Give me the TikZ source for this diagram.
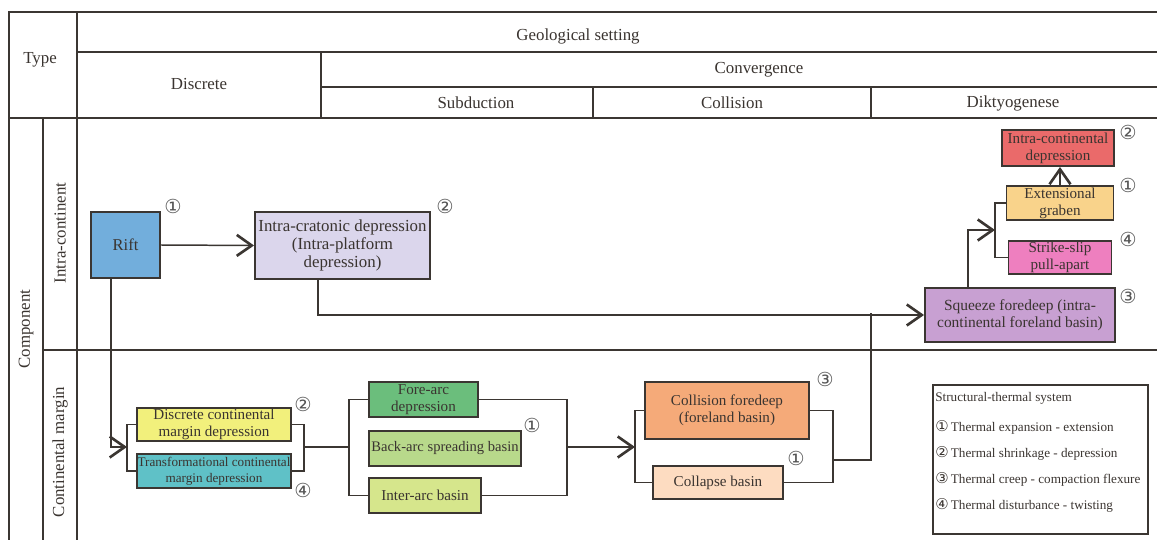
\documentclass[tikz,border=0pt]{standalone}
\usepackage{fontspec}
\setmainfont{Liberation Serif}
\newfontfamily\circfont{DejaVu Sans}
\usetikzlibrary{arrows.meta}
\usetikzlibrary{positioning}

\definecolor{lineC}{HTML}{3B3632}
\definecolor{textC}{HTML}{3A3430}
\definecolor{numC}{HTML}{555555}
\definecolor{riftC}{HTML}{72AEDC}
\definecolor{cratonC}{HTML}{DBD6EC}
\definecolor{squeezeC}{HTML}{C8A0D2}
\definecolor{grabenC}{HTML}{F9D38B}
\definecolor{pullC}{HTML}{EE7FBF}
\definecolor{intraC}{HTML}{EA6A6A}
\definecolor{discC}{HTML}{F2F07C}
\definecolor{transC}{HTML}{5FC1C7}
\definecolor{foreC}{HTML}{6BBE7C}
\definecolor{backC}{HTML}{B8D98B}
\definecolor{interC}{HTML}{D6E68C}
\definecolor{forelC}{HTML}{F5AA79}
\definecolor{collC}{HTML}{FDDCC1}

\tikzstyle{tableLine}=[line width=1.1pt,draw=lineC]
\tikzstyle{Head}=[text=textC,font=\fontsize{9.6}{11}\selectfont]
\tikzstyle{Box}=[draw=lineC,line width=1.1pt,align=center,inner sep=0pt,text=textC,font=\fontsize{8.6}{9.6}\selectfont]
\tikzstyle{Num}=[text=numC,font=\circfont\fontsize{11}{11}\selectfont,inner sep=0pt]
\tikzstyle{Conn}=[line width=.85pt,draw=lineC]
\tikzstyle{Arrow}=[Conn,-{Straight Barb[length=.3cm,width=.42cm,line width=1.5pt]}]

\begin{document}
\begin{tikzpicture}[x=0.02cm,y=-0.02cm]

  \useasboundingbox (0,0) rectangle (1157,540);

  % Table
  % -----
  \draw[tableLine] (9,540) -- (9,12) -- (1157,12);
  \draw[tableLine] (77,12) -- (77,540);
  \draw[tableLine] (43,118) -- (43,540);
  \draw[tableLine] (77,52) -- (1157,52);
  \draw[tableLine] (9,118) -- (1157,118);
  \draw[tableLine] (321,52) -- (321,118);
  \draw[tableLine] (321,87) -- (1157,87);
  \draw[tableLine] (593,87) -- (593,118);
  \draw[tableLine] (871,87) -- (871,118);
  \draw[tableLine] (43,350) -- (1157,350);

  \node[Head] (type) at (40,60) {Type};
  \node[Head] (geo) at (578,36) {Geological setting};
  \node[Head] (disc) at (199,84) {Discrete};
  \node[Head] (conv) at (759,70) {Convergence};
  \node[Head] (subd) at (476,103) {Subduction};
  \node[Head] (coll) at (732,103) {Collision};
  \node[Head] (dikt) at (1013,103) {Diktyogenese};
  \node[Head,rotate=90] (comp) at (26,329) {Component};
  \node[Head,rotate=90] (incont) at (60,233) {Intra-continent};
  \node[Head,rotate=90] (margin) at (60,452) {Continental margin};

  % Intra-continent
  % ---------------
  \node[Box,fill=riftC,minimum width=1.38cm,minimum height=1.32cm,font=\fontsize{9.4}{10}\selectfont] (rift) at (125.5,245) {Rift};
  \node[Box,fill=cratonC,minimum width=3.5cm,minimum height=1.34cm,font=\fontsize{9.6}{10.2}\selectfont] (craton) at (342.5,245.5) {Intra-cratonic depression\\(Intra-platform\\depression)};
  \node[Box,fill=squeezeC,minimum width=3.8cm,minimum height=1.08cm,font=\fontsize{8.8}{9.8}\selectfont] (squeeze) at (1020,315) {Squeeze foredeep (intra-\\continental foreland basin)};
  \node[Box,fill=grabenC,minimum width=2.14cm,minimum height=.68cm] (graben) at (1060,203) {Extensional\\graben};
  \node[Box,fill=pullC,minimum width=2.06cm,minimum height=.66cm] (pullapart) at (1060,257.5) {Strike-slip\\pull-apart};
  \node[Box,fill=intraC,minimum width=2.24cm,minimum height=.72cm] (intradep) at (1058,148) {Intra-continental\\depression};

  \node[Num] (nRift) at (173,206) {①};
  \node[Num] (nCraton) at (445,206) {②};
  \node[Num] (nIntra) at (1128,132) {②};
  \node[Num] (nGraben) at (1128,185) {①};
  \node[Num] (nPull) at (1128,239) {④};
  \node[Num] (nSqueeze) at (1128,296) {③};

  \draw[Arrow] (rift.east) -- (craton.west);
  \draw[Arrow] ([xshift=-.49cm]craton.south) |- (squeeze.west);
  \coordinate (gbr) at (995,230);
  \draw[Arrow] ([xshift=-1.04cm]squeeze.north) |- (gbr);
  \draw[Conn] (graben.west) -| (gbr) |- (pullapart.west);
  \draw[Arrow] (graben.north) -- (graben.north |- intradep.south);

  % Continental margin
  % ------------------
  \node[Box,fill=discC,minimum width=3.08cm,minimum height=.66cm] (discm) at (214,424.5) {Discrete continental\\margin depression};
  \node[Box,fill=transC,minimum width=3.08cm,minimum height=.68cm,font=\fontsize{7.5}{9}\selectfont] (transm) at (214,471) {Transformational continental\\margin depression};
  \node[Box,fill=foreC,minimum width=2.18cm,minimum height=.7cm] (forearc) at (423.5,399.5) {Fore-arc\\depression};
  \node[Box,fill=backC,minimum width=3.04cm,minimum height=.7cm,font=\fontsize{8.3}{9.6}\selectfont] (backarc) at (445,448.5) {Back-arc spreading basin};
  \node[Box,fill=interC,minimum width=2.24cm,minimum height=.7cm] (interarc) at (425,495.5) {Inter-arc basin};
  \node[Box,fill=forelC,minimum width=3.28cm,minimum height=1.14cm] (forel) at (727,410.5) {Collision foredeep\\(foreland basin)};
  \node[Box,fill=collC,minimum width=2.6cm,minimum height=.66cm] (collapse) at (718,482.5) {Collapse basin};

  \node[Num] (nDisc) at (303,404) {②};
  \node[Num] (nTrans) at (303,490) {④};
  \node[Num] (nBack) at (532,425) {①};
  \node[Num] (nForel) at (825,379) {③};
  \node[Num] (nColl) at (796,458) {①};

  \coordinate (dbl) at (127,447);
  \draw[Arrow] ([xshift=-.29cm]rift.south) |- (dbl);
  \draw[Conn] (discm.west) -| (dbl) |- (transm.west);
  \coordinate (dbr) at (304,447);
  \draw[Conn] (discm.east) -| (dbr) |- (transm.east);
  \coordinate (sbl) at (349,447);
  \draw[Conn] (dbr) -- (sbl);
  \draw[Conn] (forearc.west) -| (sbl) |- (interarc.west);
  \coordinate (sbr) at (567,447);
  \draw[Conn] (forearc.east) -| (sbr) |- (interarc.east);
  \coordinate (cbl) at (635,447);
  \draw[Arrow] (sbr) -- (cbl);
  \draw[Conn] (forel.west) -| (cbl) |- (collapse.west);
  \coordinate (cbr) at (833,460);
  \draw[Conn] (forel.east) -| (cbr) |- (collapse.east);
  \coordinate (join) at (871,313);
  \draw[Conn] (cbr) -| (join);

  % Legend
  \node[draw=lineC,line width=.9pt,minimum width=4.3cm,minimum height=2.98cm,anchor=north west,inner sep=0pt] (legend) at (932,384) {};
  \node[anchor=north west,align=left,inner sep=0pt,text=textC,font=\fontsize{7.5}{14.8}\selectfont] (legendText) at (935,392) {Structural-thermal system\\[2.2pt]
    {\circfont\fontsize{8.5}{8.5}\selectfont ①}\,Thermal expansion - extension\\
    {\circfont\fontsize{8.5}{8.5}\selectfont ②}\,Thermal shrinkage - depression\\
    {\circfont\fontsize{8.5}{8.5}\selectfont ③}\,Thermal creep - compaction flexure\\
    {\circfont\fontsize{8.5}{8.5}\selectfont ④}\,Thermal disturbance - twisting};

\end{tikzpicture}
\end{document}
